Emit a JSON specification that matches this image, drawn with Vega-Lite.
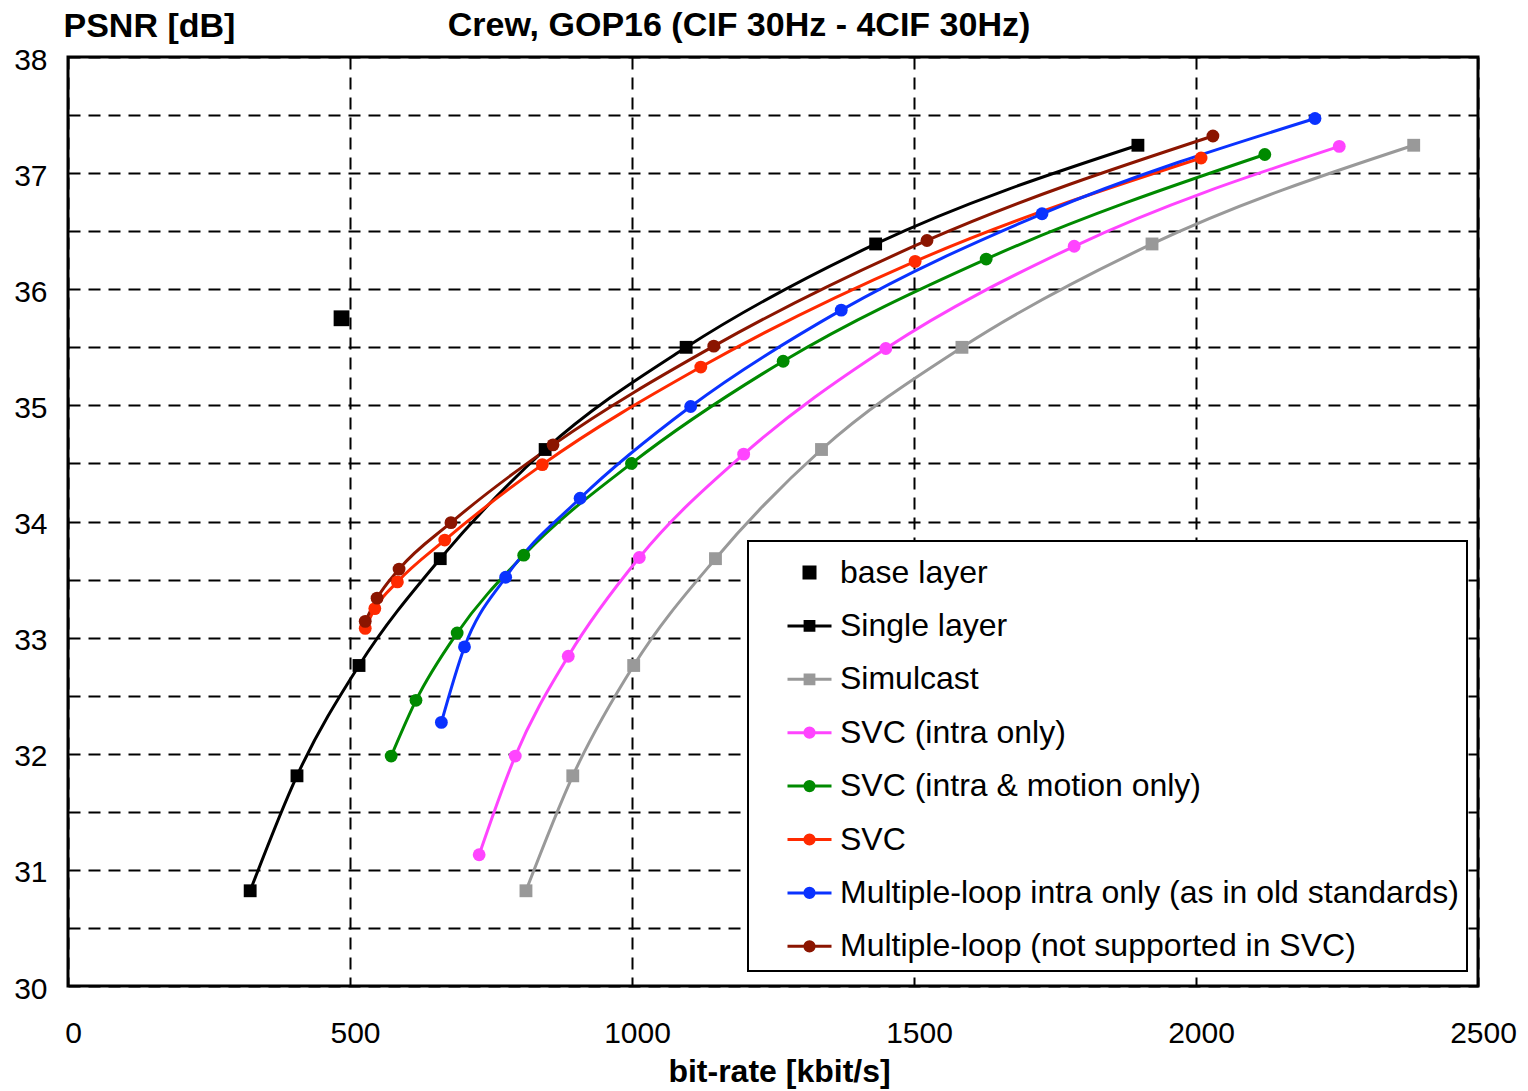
{
  "$schema": "https://vega.github.io/schema/vega-lite/v6.json",
  "width": 1410,
  "height": 929,
  "autosize": {"type": "none"},
  "padding": {"left": 68, "top": 57, "right": 50, "bottom": 105},
  "background": "white",
  "config": {
    "font": "Liberation Sans",
    "view": {"stroke": "black", "strokeWidth": 3},
    "axis": {
      "domain": false,
      "ticks": false,
      "grid": true,
      "gridColor": "black",
      "gridOpacity": 1,
      "gridWidth": 2,
      "gridDash": [12, 8],
      "labelFlush": false,
      "labelFont": "Liberation Sans",
      "labelFontSize": 30,
      "labelColor": "black",
      "titleFont": "Liberation Sans",
      "titleFontWeight": "bold",
      "titleColor": "black"
    }
  },
  "title": {
    "text": "Crew, GOP16 (CIF 30Hz - 4CIF 30Hz)",
    "font": "Liberation Sans",
    "fontSize": 34,
    "fontWeight": "bold",
    "color": "black",
    "anchor": "middle",
    "frame": "group",
    "dx": -34,
    "dy": 82,
    "offset": 21,
    "baseline": "alphabetic"
  },
  "data": {
    "values": [
      {"series": "base layer", "rate": 485, "psnr": 35.75},

      {"series": "Single layer", "rate": 323, "psnr": 30.82},
      {"series": "Single layer", "rate": 406, "psnr": 31.81},
      {"series": "Single layer", "rate": 516, "psnr": 32.76},
      {"series": "Single layer", "rate": 660, "psnr": 33.68},
      {"series": "Single layer", "rate": 846, "psnr": 34.62},
      {"series": "Single layer", "rate": 1096, "psnr": 35.5},
      {"series": "Single layer", "rate": 1432, "psnr": 36.39},
      {"series": "Single layer", "rate": 1897, "psnr": 37.24},

      {"series": "Simulcast", "rate": 812, "psnr": 30.82},
      {"series": "Simulcast", "rate": 895, "psnr": 31.81},
      {"series": "Simulcast", "rate": 1003, "psnr": 32.76},
      {"series": "Simulcast", "rate": 1148, "psnr": 33.68},
      {"series": "Simulcast", "rate": 1336, "psnr": 34.62},
      {"series": "Simulcast", "rate": 1585, "psnr": 35.5},
      {"series": "Simulcast", "rate": 1922, "psnr": 36.39},
      {"series": "Simulcast", "rate": 2386, "psnr": 37.24},

      {"series": "SVC (intra only)", "rate": 729, "psnr": 31.13},
      {"series": "SVC (intra only)", "rate": 793, "psnr": 31.98},
      {"series": "SVC (intra only)", "rate": 887, "psnr": 32.84},
      {"series": "SVC (intra only)", "rate": 1013, "psnr": 33.69},
      {"series": "SVC (intra only)", "rate": 1198, "psnr": 34.58},
      {"series": "SVC (intra only)", "rate": 1450, "psnr": 35.49},
      {"series": "SVC (intra only)", "rate": 1784, "psnr": 36.37},
      {"series": "SVC (intra only)", "rate": 2254, "psnr": 37.23},

      {"series": "SVC (intra & motion only)", "rate": 573, "psnr": 31.98},
      {"series": "SVC (intra & motion only)", "rate": 617, "psnr": 32.46},
      {"series": "SVC (intra & motion only)", "rate": 690, "psnr": 33.04},
      {"series": "SVC (intra & motion only)", "rate": 808, "psnr": 33.71},
      {"series": "SVC (intra & motion only)", "rate": 999, "psnr": 34.5},
      {"series": "SVC (intra & motion only)", "rate": 1268, "psnr": 35.38},
      {"series": "SVC (intra & motion only)", "rate": 1628, "psnr": 36.26},
      {"series": "SVC (intra & motion only)", "rate": 2122, "psnr": 37.16},

      {"series": "SVC", "rate": 527, "psnr": 33.08},
      {"series": "SVC", "rate": 544, "psnr": 33.25},
      {"series": "SVC", "rate": 584, "psnr": 33.48},
      {"series": "SVC", "rate": 668, "psnr": 33.84},
      {"series": "SVC", "rate": 841, "psnr": 34.49},
      {"series": "SVC", "rate": 1122, "psnr": 35.33},
      {"series": "SVC", "rate": 1502, "psnr": 36.24},
      {"series": "SVC", "rate": 2009, "psnr": 37.13},

      {"series": "Multiple-loop intra only (as in old standards)", "rate": 662, "psnr": 32.27},
      {"series": "Multiple-loop intra only (as in old standards)", "rate": 703, "psnr": 32.92},
      {"series": "Multiple-loop intra only (as in old standards)", "rate": 776, "psnr": 33.52},
      {"series": "Multiple-loop intra only (as in old standards)", "rate": 908, "psnr": 34.2},
      {"series": "Multiple-loop intra only (as in old standards)", "rate": 1104, "psnr": 34.99},
      {"series": "Multiple-loop intra only (as in old standards)", "rate": 1371, "psnr": 35.82},
      {"series": "Multiple-loop intra only (as in old standards)", "rate": 1727, "psnr": 36.65},
      {"series": "Multiple-loop intra only (as in old standards)", "rate": 2211, "psnr": 37.47},

      {"series": "Multiple-loop (not supported in SVC)", "rate": 527, "psnr": 33.14},
      {"series": "Multiple-loop (not supported in SVC)", "rate": 548, "psnr": 33.34},
      {"series": "Multiple-loop (not supported in SVC)", "rate": 587, "psnr": 33.59},
      {"series": "Multiple-loop (not supported in SVC)", "rate": 679, "psnr": 33.99},
      {"series": "Multiple-loop (not supported in SVC)", "rate": 860, "psnr": 34.66},
      {"series": "Multiple-loop (not supported in SVC)", "rate": 1145, "psnr": 35.51},
      {"series": "Multiple-loop (not supported in SVC)", "rate": 1523, "psnr": 36.42},
      {"series": "Multiple-loop (not supported in SVC)", "rate": 2030, "psnr": 37.32}
    ]
  },
  "encoding": {
    "x": {
      "field": "rate",
      "type": "quantitative",
      "scale": {"domain": [0, 2500], "nice": false, "zero": false},
      "axis": {
        "values": [0, 500, 1000, 1500, 2000, 2500],
        "format": "d",
        "labelPadding": 32,
        "labelOffset": 5,
        "title": "bit-rate [kbit/s]",
        "titleFontSize": 32,
        "titleX": 711,
        "titleY": 95,
        "titleAlign": "center",
        "titleBaseline": "alphabetic"
      }
    },
    "y": {
      "field": "psnr",
      "type": "quantitative",
      "scale": {"domain": [30, 38], "nice": false, "zero": false},
      "axis": {
        "values": [30, 30.5, 31, 31.5, 32, 32.5, 33, 33.5, 34, 34.5, 35, 35.5, 36, 36.5, 37, 37.5, 38],
        "labelExpr": "datum.value % 1 === 0 ? format(datum.value, 'd') : ''",
        "labelPadding": 21,
        "labelOffset": 3,
        "title": "PSNR [dB]",
        "titleFontSize": 34,
        "titleAngle": 0,
        "titleAlign": "left",
        "titleBaseline": "alphabetic",
        "titleX": -5,
        "titleY": -21
      }
    },
    "color": {
      "field": "series",
      "type": "nominal",
      "scale": {
        "domain": [
          "base layer",
          "Single layer",
          "Simulcast",
          "SVC (intra only)",
          "SVC (intra & motion only)",
          "SVC",
          "Multiple-loop intra only (as in old standards)",
          "Multiple-loop (not supported in SVC)"
        ],
        "range": ["#000000", "#000000", "#999999", "#ff44ff", "#008a00", "#ff2a00", "#0a32ff", "#8b1500"]
      },
      "legend": {
        "title": null,
        "orient": "none",
        "legendX": 680,
        "legendY": 484,
        "padding": 8,
        "fillColor": "white",
        "strokeColor": "black",
        "cornerRadius": 0,
        "symbolSize": 1936,
        "symbolStrokeWidth": 3,
        "symbolOffset": 30,
        "symbolOpacity": 1,
        "labelOffset": 7,
        "labelFont": "Liberation Sans",
        "labelFontSize": 32,
        "labelColor": "black",
        "labelLimit": 900,
        "rowPadding": 13.4,
        "encode": {
          "legend": {"update": {"strokeWidth": {"value": 2}}},
          "symbols": {
            "update": {
              "shape": {"signal": "datum.value === 'base layer' ? 'M-0.25,-0.25H0.25V0.25H-0.25Z' : (datum.value === 'Single layer' || datum.value === 'Simulcast') ? 'M-1,0H1M-0.2,-0.2H0.2V0.2H-0.2Z' : 'M-1,0H1M0.21,0A0.21,0.21 0 1,1 -0.21,0A0.21,0.21 0 1,1 0.21,0Z'"},
              "fill": {"signal": "scale('color', datum.value)"},
              "stroke": {"signal": "scale('color', datum.value)"},
              "strokeWidth": {"value": 3},
              "size": {"value": 1936},
              "opacity": {"value": 1}
            }
          }
        }
      }
    }
  },
  "layer": [
    {
      "transform": [{"filter": "datum.series !== 'base layer'"}],
      "mark": {"type": "line", "interpolate": "monotone", "strokeWidth": 3},
      "encoding": {"order": {"field": "rate", "type": "quantitative"}}
    },
    {
      "mark": {"type": "point", "filled": true, "opacity": 1},
      "encoding": {
        "shape": {
          "condition": {"test": "datum.series === 'base layer' || datum.series === 'Single layer' || datum.series === 'Simulcast'", "value": "square"},
          "value": "circle"
        },
        "size": {
          "condition": {"test": "datum.series === 'base layer'", "value": 250},
          "value": 165
        }
      }
    }
  ]
}
